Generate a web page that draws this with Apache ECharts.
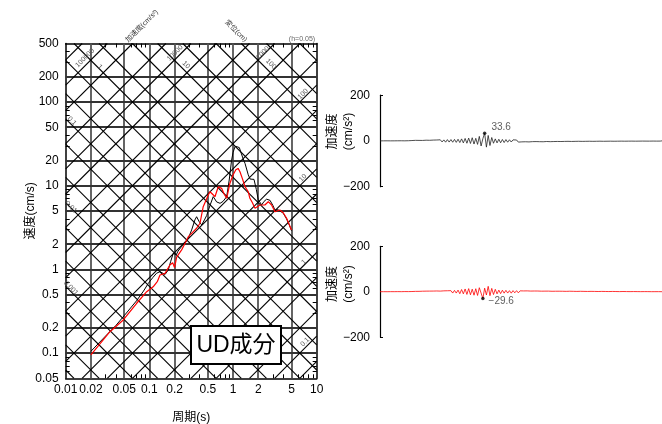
<!DOCTYPE html>
<html><head><meta charset="utf-8">
<script src="https://cdn.jsdelivr.net/npm/echarts@6/dist/echarts.min.js"></script>
<style>html,body{margin:0;padding:0;background:#fff}#c{width:662px;height:424px}</style>
</head><body><div id="c"></div>
<script>
// ---------- data ----------
const periodsBlack = [0.02,0.03,0.04,0.05,0.07,0.085,0.097,0.11,0.122,0.134,0.145,0.154,0.168,0.18,0.193,0.21,0.22,0.24,0.266,0.292,0.32,0.35,0.367,0.395,0.422,0.455,0.484,0.53,0.58,0.637,0.7,0.76,0.84,0.9,0.96,1.0,1.06,1.12,1.19,1.26,1.32,1.39,1.52,1.6,1.67,1.78,1.9,2.0,2.2,2.35,2.52,2.76,3.0,3.17,3.4,3.63,3.98,4.37,4.7,5.0];
const svBlack = [0.105,0.16,0.215,0.28,0.42,0.55,0.68,0.8,0.9,0.94,0.9,0.87,0.98,1.25,1.56,1.5,1.65,1.85,2.05,2.35,2.96,3.9,4.26,3.7,3.4,3.9,4.4,5.8,7.4,6.4,6.16,6.5,7.4,11.7,20,25,29.5,29.2,28.5,24,21,18.5,13.5,12,11.7,11.9,9,6.8,5.9,6.5,6.9,6.7,5.8,5.1,5.2,5.0,4.7,4.0,3.4,2.9];
const periodsRed = [0.02,0.0338,0.0488,0.0705,0.0929,0.111,0.125,0.134,0.154,0.176,0.19,0.2,0.212,0.243,0.27,0.292,0.32,0.367,0.403,0.44,0.506,0.53,0.57,0.608,0.666,0.731,0.78,0.84,0.918,1.0,1.08,1.15,1.21,1.3,1.39,1.52,1.59,1.7,1.83,2.1,2.4,2.64,2.89,3.17,3.63,3.98,4.37,5.0];
const svRed = [0.095,0.18,0.249,0.394,0.542,0.62,0.72,0.857,0.897,1.13,1.2,1.05,1.4,1.71,2.1,2.46,2.7,3.1,3.56,5.61,7.74,8.48,7.9,7.39,9.73,9.3,8.0,7.07,10.7,13.4,15.5,16.1,14.7,12,9.73,8.47,7.07,6.3,5.37,5.88,5.88,6.44,5.88,4.89,5.13,4.76,4.08,2.96];

const xTickLabels = [0.01,0.02,0.05,0.1,0.2,0.5,1,2,5,10];
const yTickLabels = [0.05,0.1,0.2,0.5,1,2,5,10,20,50,100,200,500];
const xMinorTicks = [0.03,0.04,0.06,0.07,0.08,0.09,0.3,0.4,0.6,0.7,0.8,0.9,3,4,6,7,8,9];
const yMinorTicks = [0.06,0.07,0.08,0.09,0.3,0.4,0.6,0.7,0.8,0.9,3,4,6,7,8,9,30,40,60,70,80,90,300,400];
const xGridLines = [0.02,0.05,0.1,0.2,0.5,1,2,5];
const yGridLines = [0.1,0.2,0.5,1,2,5,10,20,50,100,200];
const accelLevels = [0.05,0.1,0.2,0.5,1,2,5,10,20,50,100,200,500,1000,2000,5000,10000,20000,50000,100000,200000];
const dispLevels = [0.0001,0.0002,0.0005,0.001,0.002,0.005,0.01,0.02,0.05,0.1,0.2,0.5,1,2,5,10,20,50,100,200,500];
const accelLabels = [['100000',85,58],['10000',175,53],['1000',263,53],['100',303,94],['10',303,178],['1',304,262],['0.1',305,342]];
const dispLabels = [['1',100,67],['10',186,65],['100',271,64],['0.1',72,121],['0.01',71,207],['0.001',71,288]];

const waveTicks = [-200,0,200];
const waveBlack = [
0.3,-0.4,0.5,-0.3,0.6,-0.5,0.4,-0.6,0.5,-0.4,
0.7,-0.6,0.8,-0.7,0.6,-0.9,1.0,-0.8,1.8,-2.2,
2.6,-1.9,2.4,-2.8,2.2,-3.0,3.3,-2.5,2.9,-3.4,
3.8,-3.0,4.2,-3.6,5.0,-4.4,4.6,-5.4,5.8,-4.9,
6.0,-5.6,6.8,-6.2,7.5,-7.0,9.0,-8.5,11.0,-10.0,
12.5,-11.0,14.0,-13.5,11.5,-15.0,20.0,-22.0,10.0,33.6,
-27.0,24.0,-20.0,15.0,-10.0,9.0,-8.5,7.5,-8.0,6.5,
-7.0,6.0,-5.5,5.2,-4.6,4.8,-3.8,4.2,-5.0,3.6,
-4.0,4.4,-3.5,3.2,-4.2,3.8,-3.0,3.5,-2.8,3.9,
-3.2,2.6,-3.5,3.0,-2.4,2.8,-3.1,2.2,-2.6,2.9,
-2.2,2.0,-2.5,1.8,-2.1,2.4,-1.7,1.9,-2.2,1.6,
-1.8,2.0,-1.5,1.7,-1.9,1.4,-1.6,1.8,-1.3,1.5,
-1.7,1.2,-1.4,1.6,-1.1,1.3,-1.5,1.0,-1.2,1.4,
-1.0,1.2,-1.3,0.9,-1.1,1.2,-0.8,1.0,-1.1,0.8,
-0.9,1.0,-0.7,0.9,-1.0,0.7,-0.8,0.9,-0.6,0.8,
-0.7,0.6,-0.8,0.7,-0.5,0.6,-0.7,0.5,-0.6,0.4];
const waveRed = [
0.4,-0.3,0.5,-0.6,0.4,-0.5,0.7,-0.4,0.6,-0.5,
0.8,-0.7,0.6,-0.9,1.0,-0.8,0.9,-1.1,1.2,-1.0,
1.8,-2.2,2.0,-1.9,2.6,-2.4,2.9,-2.2,3.1,-2.8,
3.2,-3.0,3.6,-3.3,3.1,-3.8,4.2,-3.6,4.6,-4.1,
5.0,-5.5,6.2,-5.6,7.5,-8.5,10.0,-9.0,12.5,-11.5,
14.0,-13.0,11.5,-15.0,13.5,-16.0,18.0,12.0,-29.6,16.0,
-14.0,24.0,-17.0,15.0,-12.0,11.0,-9.0,7.5,-8.0,7.0,
-6.0,6.5,-5.5,5.0,-6.0,5.2,-4.5,5.0,-4.6,4.2,
-4.2,3.8,-3.4,4.0,-3.6,3.2,-3.8,3.5,-3.0,3.4,
-3.1,2.7,-3.3,2.9,-2.5,3.0,-2.8,2.3,-2.7,2.5,
-2.3,2.6,-2.1,2.4,-2.7,2.0,-2.2,2.5,-1.9,2.1,
-2.0,1.7,-1.9,2.2,-1.6,1.8,-2.0,1.5,-1.7,1.9,
-1.4,1.6,-1.8,1.3,-1.5,1.7,-1.2,1.4,-1.6,1.1,
-1.3,1.5,-1.0,1.2,-1.4,0.9,-1.1,1.3,-0.9,1.0,
-1.2,0.8,-1.0,1.1,-0.7,0.9,-1.0,0.7,-0.8,0.9,
-0.6,0.8,-0.7,0.5,-0.8,0.6,-0.5,0.7,-0.6,0.4];
const peakBlack = [59, 33.6];
const peakRed = [58, -29.6];

// ---------- build ----------
const X_MIN = 0.01, X_MAX = 10, Y_MIN = 0.05, Y_MAX = 500;
const TWO_PI = 2 * Math.PI;
const FONT = '"Liberation Sans", "Noto Sans CJK JP", sans-serif';
const fmt = v => String(parseFloat(Number(v).toPrecision(4)));
const minus = v => (v < 0 ? '\u2212' + Math.abs(v) : String(v));

function accelSeg(A) { // Sv = A T / 2pi
  const t0 = Math.max(X_MIN, Y_MIN * TWO_PI / A), t1 = Math.min(X_MAX, Y_MAX * TWO_PI / A);
  return t1 > t0 ? {coords: [[t0, A * t0 / TWO_PI], [t1, A * t1 / TWO_PI]]} : null;
}
function dispSeg(D) { // Sv = 2pi D / T
  const t0 = Math.max(X_MIN, TWO_PI * D / Y_MAX), t1 = Math.min(X_MAX, TWO_PI * D / Y_MIN);
  return t1 > t0 ? {coords: [[t0, TWO_PI * D / t0], [t1, TWO_PI * D / t1]]} : null;
}

const logX = (pos, showLabel) => ({
  gridIndex: 0, type: 'log', logBase: 10, min: X_MIN, max: X_MAX, position: pos,
  axisLine: {show: true, onZero: false, lineStyle: {color: '#000', width: 1.5}},
  axisTick: {show: true, inside: true, length: 4, customValues: xMinorTicks, lineStyle: {color: '#000', width: 1}},
  axisLabel: {show: showLabel, customValues: xTickLabels, formatter: fmt, margin: 5, color: '#000', fontSize: 12, fontFamily: FONT},
  splitLine: {show: false}, minorTick: {show: false}
});
const logY = (pos, showLabel) => ({
  gridIndex: 0, type: 'log', logBase: 10, min: Y_MIN, max: Y_MAX, position: pos,
  axisLine: {show: true, onZero: false, lineStyle: {color: '#000', width: 1.5}},
  axisTick: {show: true, inside: true, length: 4, customValues: yMinorTicks, lineStyle: {color: '#000', width: 1}},
  axisLabel: {show: showLabel, customValues: yTickLabels, formatter: fmt, margin: 7, color: '#000', fontSize: 12, fontFamily: FONT},
  splitLine: {show: false}, minorTick: {show: false}
});
const waveX = g => ({gridIndex: g, type: 'value', min: 0, max: waveBlack.length - 1, show: false});
const waveY = g => ({
  gridIndex: g, type: 'value', min: -200, max: 200, interval: 200,
  axisLine: {show: true, onZero: false, lineStyle: {color: '#000', width: 1.2}},
  axisTick: {show: true, inside: true, length: 3, customValues: [-200, 200], lineStyle: {color: '#000'}},
  axisLabel: {show: true, customValues: waveTicks, formatter: minus, margin: 10, color: '#000', fontSize: 12, fontFamily: FONT},
  splitLine: {show: false}
});

const xAx0 = logX('bottom', true);
Object.assign(xAx0, {name: '周期(s)', nameLocation: 'middle', nameGap: 33, nameMoveOverlap: false,
  nameTextStyle: {color: '#000', fontSize: 12, fontFamily: FONT}});
const yAx0 = logY('left', true);
Object.assign(yAx0, {name: '速度(cm/s)', nameLocation: 'middle', nameGap: 29.5, nameRotate: 90, nameMoveOverlap: false,
  nameTextStyle: {color: '#000', fontSize: 12, fontFamily: FONT}});

const linesSeries = (data, color, width) => ({
  type: 'lines', coordinateSystem: 'cartesian2d', xAxisIndex: 0, yAxisIndex: 0,
  polyline: false, silent: true, z: 1, data: data.filter(Boolean),
  lineStyle: {color: color, width: width, opacity: 1, curveness: 0}
});

const smallLabels = [];
accelLabels.forEach(([t, x, y]) => smallLabels.push({type: 'text', x: x, y: y, rotation: Math.PI / 4, z: 50,
  style: {text: t, fill: '#555', fontSize: 7, fontFamily: FONT, textAlign: 'center', textVerticalAlign: 'middle', align: 'center', verticalAlign: 'middle'}}));
dispLabels.forEach(([t, x, y]) => smallLabels.push({type: 'text', x: x, y: y, rotation: -Math.PI / 4, z: 50,
  style: {text: t, fill: '#555', fontSize: 7, fontFamily: FONT, textAlign: 'center', textVerticalAlign: 'middle', align: 'center', verticalAlign: 'middle'}}));

const txt = (text, x, y, rot, size, color, extra) => Object.assign({type: 'text', x: x, y: y, rotation: rot, z: 60,
  style: {text: text, fill: color, fontSize: size, fontFamily: FONT, textAlign: 'center', textVerticalAlign: 'middle', align: 'center', verticalAlign: 'middle'}}, extra || {});

const option = {
  animation: false,
  backgroundColor: '#fff',
  grid: [
    {left: 65.7, top: 43.5, width: 251, height: 334.8, outerBoundsMode: 'none', containLabel: false},
    {left: 380, top: 95.2, width: 282, height: 91.5, outerBoundsMode: 'none', containLabel: false},
    {left: 380, top: 246.3, width: 282, height: 91, outerBoundsMode: 'none', containLabel: false}
  ],
  xAxis: [xAx0, logX('top', false), waveX(1), waveX(2)],
  yAxis: [yAx0, logY('right', false), waveY(1), waveY(2)],
  series: [
    linesSeries(xGridLines.map(t => ({coords: [[t, Y_MIN], [t, Y_MAX]]})), '#555', 1.8),
    linesSeries(yGridLines.map(v => ({coords: [[X_MIN, v], [X_MAX, v]]})), '#333', 1.8),
    linesSeries(accelLevels.map(accelSeg), '#000', 1.1),
    linesSeries(dispLevels.map(dispSeg), '#000', 1.1),
    {type: 'line', name: 'black', xAxisIndex: 0, yAxisIndex: 0, z: 5, symbol: 'none', silent: true,
     data: periodsBlack.map((t, i) => [t, svBlack[i]]), lineStyle: {color: '#000', width: 1}},
    {type: 'line', name: 'red', xAxisIndex: 0, yAxisIndex: 0, z: 6, symbol: 'none', silent: true,
     data: periodsRed.map((t, i) => [t, svRed[i]]), lineStyle: {color: '#ff0000', width: 1.2}},
    {type: 'line', xAxisIndex: 2, yAxisIndex: 2, symbol: 'none', silent: true,
     data: waveBlack.map((v, i) => [i, v]), lineStyle: {color: '#222', width: 0.8}},
    {type: 'scatter', xAxisIndex: 2, yAxisIndex: 2, symbol: 'circle', symbolSize: 3.5, silent: true, z: 8,
     itemStyle: {color: '#000'}, data: [peakBlack],
     label: {show: true, position: 'right', distance: 5, offset: [0, -6], formatter: p => String(p.value[1]),
       color: '#333', fontSize: 10, fontFamily: FONT}},
    {type: 'line', xAxisIndex: 3, yAxisIndex: 3, symbol: 'none', silent: true,
     data: waveRed.map((v, i) => [i, v]), lineStyle: {color: '#ff0000', width: 0.8}},
    {type: 'scatter', xAxisIndex: 3, yAxisIndex: 3, symbol: 'circle', symbolSize: 3.5, silent: true, z: 8,
     itemStyle: {color: '#000'}, data: [peakRed],
     label: {show: true, position: 'right', distance: 4, offset: [0, 3], formatter: p => minus(p.value[1]),
       color: '#333', fontSize: 10, fontFamily: FONT}}
  ],
  graphic: [
    {type: 'rect', z: 100, shape: {x: 191, y: 326, width: 90, height: 38}, style: {fill: '#fff', stroke: '#000', lineWidth: 2}},
    txt('UD成分', 236, 345.5, 0, 23, '#000', {z: 101}),
    txt('加速度(cm/s²)', 142, 26, Math.PI / 4, 7, '#333'),
    txt('変位(cm)', 236, 31, -Math.PI / 4, 7, '#333'),
    txt('(h=0.05)', 302, 39.5, 0, 7, '#666'),
    txt('加速度', 333, 131.5, Math.PI / 2, 12, '#000'),
    txt('(cm/s²)', 349, 131.5, Math.PI / 2, 12, '#000'),
    txt('加速度', 333, 284, Math.PI / 2, 12, '#000'),
    txt('(cm/s²)', 349, 284, Math.PI / 2, 12, '#000')
  ].concat(smallLabels)
};

const chart = echarts.init(document.getElementById('c'), null, {renderer: 'canvas'});
chart.setOption(option);
</script></body></html>
